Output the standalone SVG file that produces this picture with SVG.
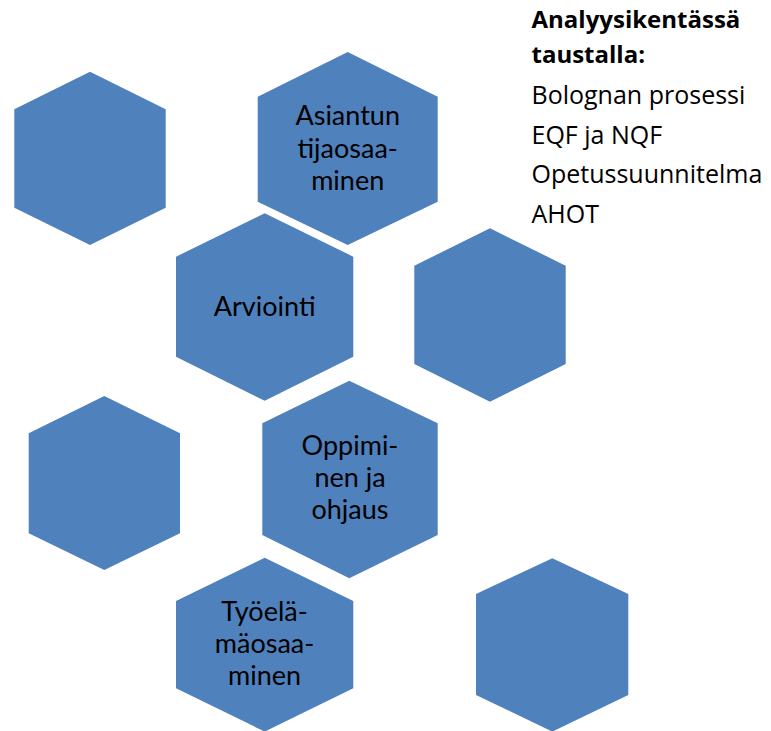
<svg xmlns="http://www.w3.org/2000/svg" width="771" height="731" viewBox="0 0 771 731">
<style>
.hex{fill:#4F81BD;stroke:none}
.lbl{font-family:Lato,"Open Sans","Liberation Sans",sans-serif;font-size:27px;fill:#000;text-anchor:middle}
.side{font-family:"Open Sans",Lato,"Liberation Sans",sans-serif;font-size:25px;fill:#000}
.bold{font-weight:bold;font-size:24px}
</style>
<rect width="771" height="731" fill="#fff"/>
<g id="hex-a"><polygon class="hex" points="90,71.7 165.7,109.3 165.7,207.7 90,245 14.3,207.7 14.3,109.3"/></g>
<g id="hex-asiantuntija"><polygon class="hex" points="347.7,52 437.7,96.7 437.7,201.7 347.7,245 257.7,201.7 257.7,96.7"/>
<text class="lbl" x="347.7" y="125">Asiantun</text>
<text class="lbl" x="347.7" y="158">tijaosaa-</text>
<text class="lbl" x="347.7" y="190">minen</text></g>
<g id="hex-arviointi"><polygon class="hex" points="264.7,213.3 353.3,256.7 353.3,356.7 264.7,400.7 176,356.7 176,256.7"/>
<text class="lbl" x="264.7" y="316">Arviointi</text></g>
<g id="hex-d"><polygon class="hex" points="490,228.3 565.7,265.7 565.7,364 490,401.7 414.3,364 414.3,265.7"/></g>
<g id="hex-e"><polygon class="hex" points="104.3,396 180,433.3 180,533.3 104.3,570 28.7,533.3 28.7,433.3"/></g>
<g id="hex-oppiminen"><polygon class="hex" points="349.3,380.7 437.7,423.3 437.7,535 349.3,578.3 262.3,535 262.3,423.3"/>
<text class="lbl" x="350" y="455">Oppimi-</text>
<text class="lbl" x="350" y="487">nen ja</text>
<text class="lbl" x="350" y="519">ohjaus</text></g>
<g id="hex-tyoelama"><polygon class="hex" points="264.7,557.7 353.3,601 353.3,688.3 264.7,731.6 176,688.3 176,601"/>
<text class="lbl" x="264.5" y="621">Työelä-</text>
<text class="lbl" x="264.5" y="653">mäosaa-</text>
<text class="lbl" x="264.5" y="685">minen</text></g>
<g id="hex-h"><polygon class="hex" points="552.3,558.3 628.3,594 628.3,695 552.3,731.6 476,695 476,594"/></g>
<g id="connectors"></g>
<g id="side-text">
<text class="side bold" x="531.5" y="28.3">Analyysikentässä</text>
<text class="side bold" x="531.5" y="63.3">taustalla:</text>
<text class="side" x="531.5" y="104">Bolognan prosessi</text>
<text class="side" x="531.5" y="143.5">EQF ja NQF</text>
<text class="side" x="531.5" y="183">Opetussuunnitelma</text>
<text class="side" x="531.5" y="222.7">AHOT</text>
</g>
</svg>
